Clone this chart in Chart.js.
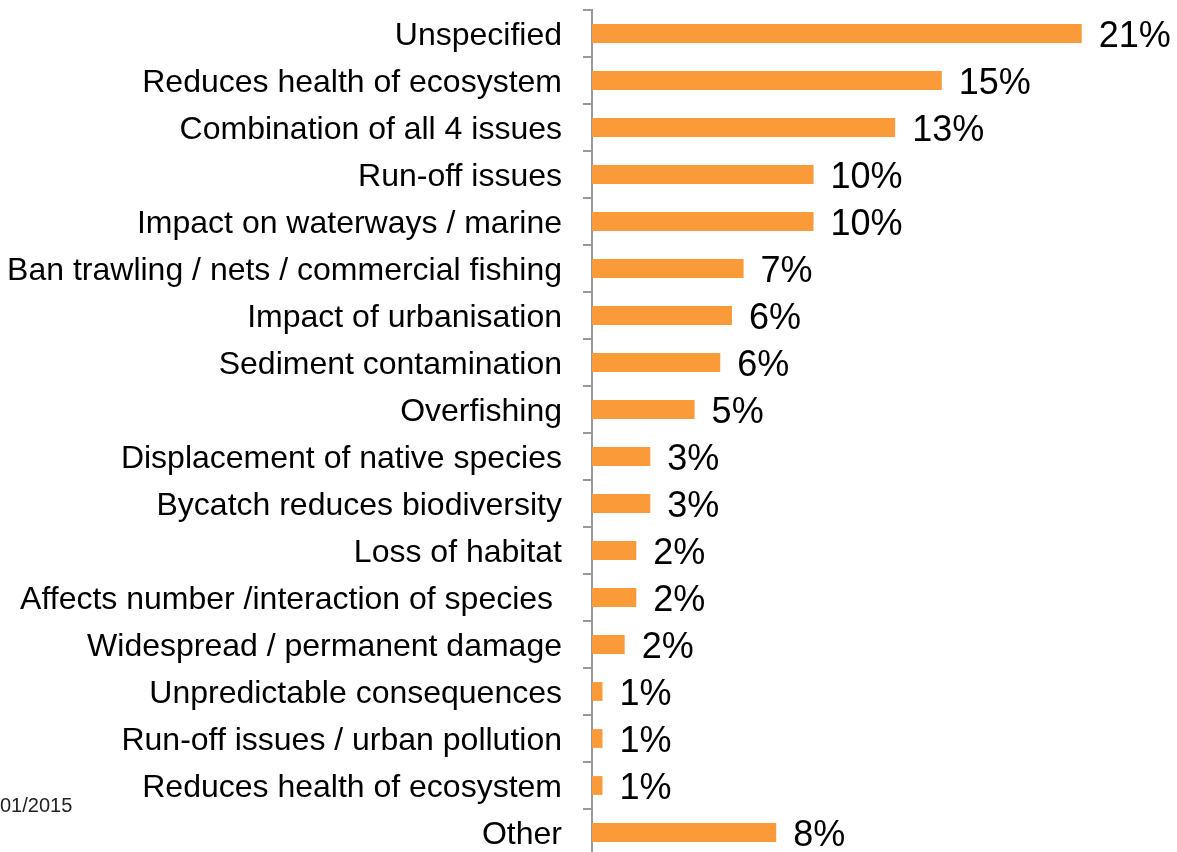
<!DOCTYPE html>
<html>
<head>
<meta charset="utf-8">
<script src="https://cdn.jsdelivr.net/npm/chart.js@4"></script>
<style>
  html, body { margin: 0; padding: 0; background: #fff; overflow: hidden; }
  #wrap { position: relative; width: 1177px; height: 856px; }
  #note { position: absolute; left: 0; top: 794px; font: 20px "Liberation Sans", Arial, sans-serif; color: #222; }
</style>
</head>
<body>
<div id="wrap">
  <canvas id="chart"></canvas>
  <div id="note">01/2015</div>
</div>
<script>
const categories = [
  'Unspecified',
  'Reduces health of ecosystem',
  'Combination of all 4 issues',
  'Run-off issues',
  'Impact on waterways / marine',
  'Ban trawling / nets / commercial fishing',
  'Impact of urbanisation',
  'Sediment contamination',
  'Overfishing',
  'Displacement of native species',
  'Bycatch reduces biodiversity',
  'Loss of habitat',
  'Affects number /interaction of species ',
  'Widespread / permanent damage',
  'Unpredictable consequences',
  'Run-off issues / urban pollution',
  'Reduces health of ecosystem',
  'Other'
]
// bar lengths (percent)
const values = [21, 15, 13, 9.5, 9.5, 6.5, 6, 5.5, 4.4, 2.5, 2.5, 1.9, 1.9, 1.4, 0.45, 0.45, 0.45, 7.9]
// labels as printed on the chart
const valueLabels = ['21%', '15%', '13%', '10%', '10%', '7%', '6%', '6%', '5%', '3%', '3%', '2%', '2%', '2%', '1%', '1%', '1%', '8%']

const FONT = '"Liberation Sans", Arial, sans-serif'

const valueLabelPlugin = {
  id: 'valueLabels',
  afterDatasetsDraw(chart) {
    const ctx = chart.ctx
    const meta = chart.getDatasetMeta(0)
    ctx.save()
    ctx.font = '36px ' + FONT
    ctx.fillStyle = '#000'
    ctx.textAlign = 'left'
    ctx.textBaseline = 'middle'
    meta.data.forEach((bar, i) => {
      ctx.fillText(valueLabels[i], bar.x + 17, bar.y + 4)
    })
    ctx.restore()
  }
}

new Chart(document.getElementById('chart'), {
  type: 'bar',
  data: {
    labels: categories,
    datasets: [{
      data: values,
      backgroundColor: '#FB9A39',
      barPercentage: 0.4,
      categoryPercentage: 1
    }]
  },
  plugins: [valueLabelPlugin],
  options: {
    indexAxis: 'y',
    responsive: true,
    maintainAspectRatio: false,
    animation: false,
    layout: { padding: { top: 10, right: 2, bottom: 0, left: 0 } },
    plugins: {
      legend: { display: false },
      tooltip: { enabled: false }
    },
    scales: {
      x: {
        display: false,
        min: 0,
        max: 25
      },
      y: {
        afterFit(scale) {
          scale.width = 592
          scale.paddingTop = 0
          scale.paddingBottom = 0
        },
        grid: {
          offset: true,
          drawOnChartArea: false,
          drawTicks: true,
          tickLength: 9,
          color: '#999',
          lineWidth: 2
        },
        border: { display: true, color: '#999', width: 2 },
        ticks: {
          color: '#000',
          padding: 21,
          labelOffset: 3,
          font: { family: FONT, size: 32 }
        }
      }
    }
  }
})
</script>
</body>
</html>
